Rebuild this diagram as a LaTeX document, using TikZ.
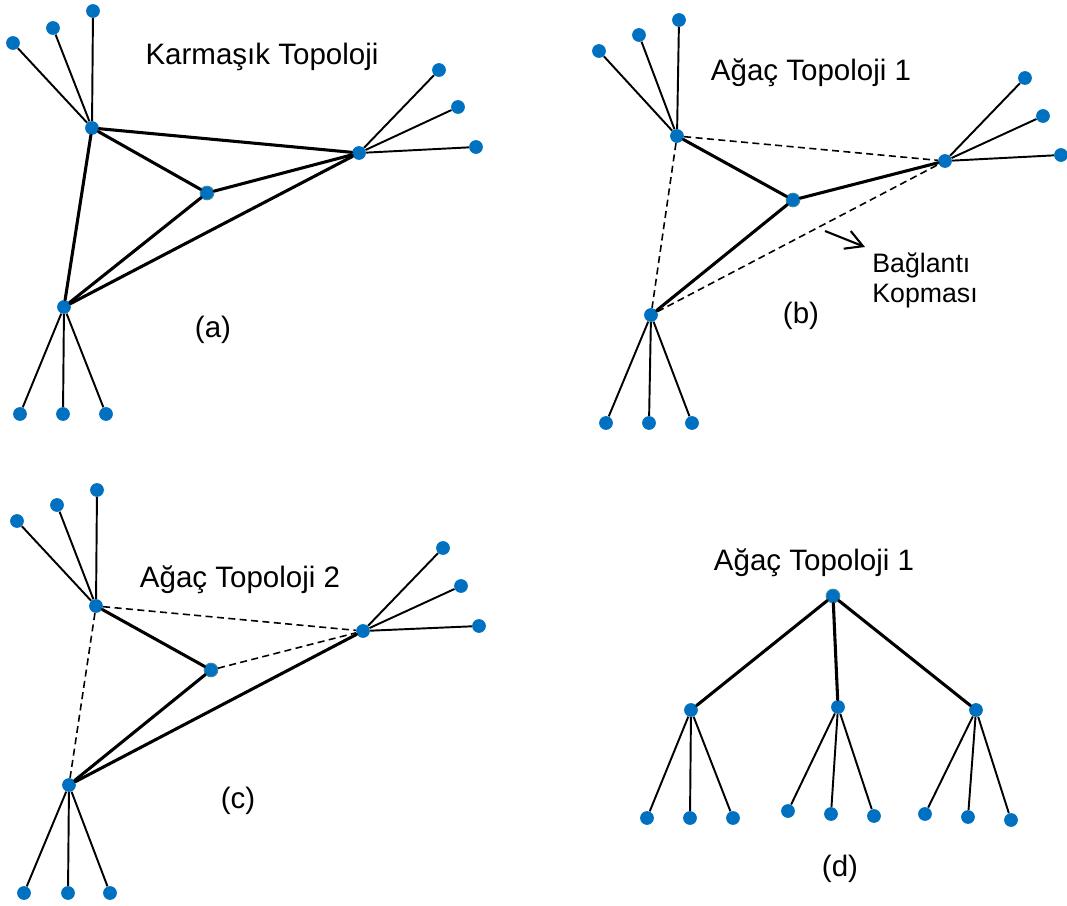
\documentclass[tikz,border=0pt]{standalone}
\usepackage{fontspec}
\setmainfont{Liberation Sans}
\usepackage{xcolor}
\usepackage{tikz}
\usetikzlibrary{arrows.meta}
\definecolor{nodeblue}{HTML}{0070C0}
\definecolor{rimteal}{HTML}{3C8C9C}
\tikzset{
  dot/.style={circle, fill=nodeblue, inner sep=0pt, minimum size=2.75mm},
  hubdot/.style={dot, draw=rimteal, line width=0.5pt},
  link/.style={draw=black, line width=1.75pt, line cap=round},
  leaflink/.style={draw=black, line width=1.1pt},
  brokenlink/.style={draw=black, line width=0.9pt, dash pattern=on 4pt off 2.5pt},
  title/.style={font=\fontsize{16.8}{20}\selectfont, anchor=base, inner sep=0pt},
  note/.style={font=\fontsize{15.2}{17}\selectfont, align=left, anchor=base west, inner sep=0pt},
  pointer/.style={-{Straight Barb[length=3.4mm, width=3.8mm]}, line width=1.2pt}
}

\begin{document}
\begin{tikzpicture}[x=0.02cm, y=-0.02cm]
  \useasboundingbox (0,0) rectangle (1067,905);

  % (a) Karmasik topoloji
  \node[dot] (atop) at (92,128) {};
  \node[dot] (atop1) at (13,43) {};
  \node[dot] (atop2) at (53,28) {};
  \node[dot] (atop3) at (93,11) {};
  \node[hubdot] (amid) at (207,193) {};
  \node[dot] (aright) at (359,153) {};
  \node[dot] (aright1) at (439,70) {};
  \node[dot] (aright2) at (458,107) {};
  \node[dot] (aright3) at (476,147) {};
  \node[dot] (abot) at (64,307) {};
  \node[dot] (abot1) at (20,414) {};
  \node[dot] (abot2) at (63,414) {};
  \node[dot] (abot3) at (106,414) {};
  \node[title] (atitle) at (262,65) {Karmaşık Topoloji};
  \node[title] (alabel) at (213,337) {(a)};

  \draw[leaflink] (atop) -- (atop1);
  \draw[leaflink] (atop) -- (atop2);
  \draw[leaflink] (atop) -- (atop3);
  \draw[leaflink] (aright) -- (aright1);
  \draw[leaflink] (aright) -- (aright2);
  \draw[leaflink] (aright) -- (aright3);
  \draw[leaflink] (abot) -- (abot1);
  \draw[leaflink] (abot) -- (abot2);
  \draw[leaflink] (abot) -- (abot3);
  \draw[link] (atop) -- (aright);
  \draw[link] (atop) -- (amid);
  \draw[link] (amid) -- (aright);
  \draw[link] (atop) -- (abot);
  \draw[link] (abot) -- (amid);
  \draw[link] (abot) -- (aright);

  % (b) agac topoloji 1, kopan baglantilar
  \node[dot] (btop) at (677,136) {};
  \node[dot] (btop1) at (599,51) {};
  \node[dot] (btop2) at (639,35) {};
  \node[dot] (btop3) at (679,20) {};
  \node[hubdot] (bmid) at (793,200) {};
  \node[dot] (bright) at (945,161) {};
  \node[dot] (bright1) at (1025,78) {};
  \node[dot] (bright2) at (1043,116) {};
  \node[dot] (bright3) at (1061,155) {};
  \node[dot] (bbot) at (651,315) {};
  \node[dot] (bbot1) at (606,423) {};
  \node[dot] (bbot2) at (649,423) {};
  \node[dot] (bbot3) at (692,423) {};
  \node[title] (btitle) at (811,81) {Ağaç Topoloji 1};
  \node[title] (blabel) at (801,323) {(b)};
  \node[note] (bnote) at (872,302) {Bağlantı\\Kopması};
  \coordinate (cutfrom) at (825,231);
  \coordinate (cutto) at (865,247);

  \draw[leaflink] (btop) -- (btop1);
  \draw[leaflink] (btop) -- (btop2);
  \draw[leaflink] (btop) -- (btop3);
  \draw[leaflink] (bright) -- (bright1);
  \draw[leaflink] (bright) -- (bright2);
  \draw[leaflink] (bright) -- (bright3);
  \draw[leaflink] (bbot) -- (bbot1);
  \draw[leaflink] (bbot) -- (bbot2);
  \draw[leaflink] (bbot) -- (bbot3);
  \draw[link] (btop) -- (bmid);
  \draw[link] (bmid) -- (bright);
  \draw[link] (bbot) -- (bmid);
  \draw[brokenlink] (btop) -- (bright);
  \draw[brokenlink] (btop) -- (bbot);
  \draw[brokenlink] (bbot) -- (bright);
  \draw[pointer] (cutfrom) -- (cutto);

  % (c) agac topoloji 2
  \node[dot] (ctop) at (96,606) {};
  \node[dot] (ctop1) at (17,521) {};
  \node[dot] (ctop2) at (57,505) {};
  \node[dot] (ctop3) at (97,490) {};
  \node[hubdot] (cmid) at (211,670) {};
  \node[dot] (cright) at (363,631) {};
  \node[dot] (cright1) at (443,548) {};
  \node[dot] (cright2) at (461,586) {};
  \node[dot] (cright3) at (479,626) {};
  \node[dot] (cbot) at (69,785) {};
  \node[dot] (cbot1) at (24,893) {};
  \node[dot] (cbot2) at (68,893) {};
  \node[dot] (cbot3) at (110,893) {};
  \node[title] (ctitle) at (240,587) {Ağaç Topoloji 2};
  \node[title] (clabel) at (238,808) {(c)};

  \draw[leaflink] (ctop) -- (ctop1);
  \draw[leaflink] (ctop) -- (ctop2);
  \draw[leaflink] (ctop) -- (ctop3);
  \draw[leaflink] (cright) -- (cright1);
  \draw[leaflink] (cright) -- (cright2);
  \draw[leaflink] (cright) -- (cright3);
  \draw[leaflink] (cbot) -- (cbot1);
  \draw[leaflink] (cbot) -- (cbot2);
  \draw[leaflink] (cbot) -- (cbot3);
  \draw[link] (ctop) -- (cmid);
  \draw[link] (cbot) -- (cmid);
  \draw[link] (cbot) -- (cright);
  \draw[brokenlink] (ctop) -- (cright);
  \draw[brokenlink] (ctop) -- (cbot);
  \draw[brokenlink] (cmid) -- (cright);

  % (d) agac olarak cizim
  \node[hubdot] (droot) at (833,596) {};
  \node[dot] (dleft) at (691,710) {};
  \node[dot] (dmid) at (838,707) {};
  \node[dot] (dright) at (976,710) {};
  \node[dot] (dleft1) at (647,818) {};
  \node[dot] (dleft2) at (690,818) {};
  \node[dot] (dleft3) at (733,818) {};
  \node[dot] (dmid1) at (788,811) {};
  \node[dot] (dmid2) at (831,814) {};
  \node[dot] (dmid3) at (874,816) {};
  \node[dot] (dright1) at (925,814) {};
  \node[dot] (dright2) at (968,817) {};
  \node[dot] (dright3) at (1011,820) {};
  \node[title] (dtitle) at (814,570) {Ağaç Topoloji 1};
  \node[title] (dlabel) at (840,876) {(d)};

  \draw[link] (droot) -- (dleft);
  \draw[link] (droot) -- (dmid);
  \draw[link] (droot) -- (dright);
  \draw[leaflink] (dleft) -- (dleft1);
  \draw[leaflink] (dleft) -- (dleft2);
  \draw[leaflink] (dleft) -- (dleft3);
  \draw[leaflink] (dmid) -- (dmid1);
  \draw[leaflink] (dmid) -- (dmid2);
  \draw[leaflink] (dmid) -- (dmid3);
  \draw[leaflink] (dright) -- (dright1);
  \draw[leaflink] (dright) -- (dright2);
  \draw[leaflink] (dright) -- (dright3);
\end{tikzpicture}
\end{document}
